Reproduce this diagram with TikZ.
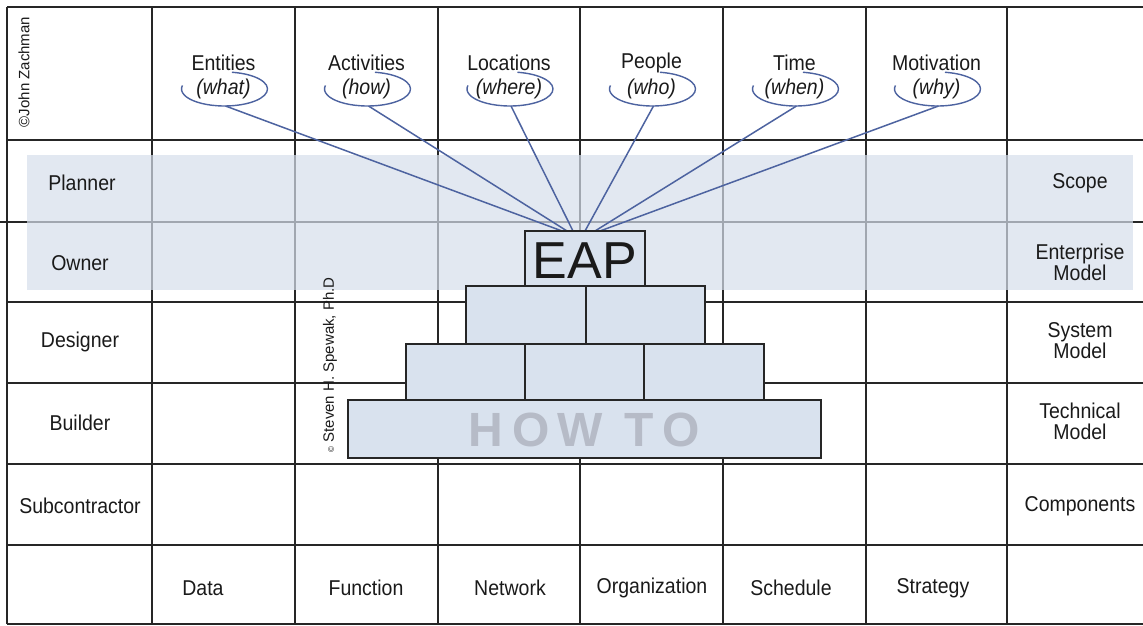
\documentclass[tikz,border=0pt]{standalone}
\usepackage{fontspec}
\setmainfont{Liberation Sans}
\definecolor{gridc}{HTML}{262626}
\definecolor{bandc}{HTML}{D6DFEC}
\definecolor{boxfill}{HTML}{D9E2EE}
\definecolor{loop}{HTML}{4D63A0}
\definecolor{howto}{HTML}{B6BBC7}
\definecolor{ink}{HTML}{1A1A1A}
\newcommand\tall[1]{\scalebox{1}[1.1]{#1}}
\newcommand\twolines[2]{\tall{\begin{tabular}{@{}c@{}}#1\\[-3pt]#2\end{tabular}}}
\begin{document}
\begin{tikzpicture}[x=1pt,y=1pt,
  gridline/.style={draw=gridc,line width=1.8pt},
  lbl/.style={font=\fontsize{19.5}{22}\selectfont,text=ink,align=center,inner sep=0pt},
  ital/.style={font=\fontsize{19.5}{22}\selectfont\itshape,text=ink,inner sep=0pt},
  lasso/.style={draw=loop,line width=1.4pt},
  spoke/.style={draw=loop,line width=1.5pt},
  brick/.style={draw=gridc,fill=boxfill,line width=1.4pt,inner sep=0pt},
  credit/.style={rotate=90,font=\fontsize{15}{15}\selectfont,text=ink,inner sep=0pt}]
\useasboundingbox (0,-626) rectangle (1143,0);
\fill[white] (0,-626) rectangle (1143,0);

% framework grid
\foreach \y in {7,140,302,383,464,545,624}
  \draw[gridline] (7,-\y) -- (1143,-\y);
\draw[gridline] (0,-222) -- (1143,-222);
\foreach \x in {7,152,295,438,580,723,866,1007}
  \draw[gridline] (\x,-7) -- (\x,-624);

% translucent band over the Planner and Owner rows
\fill[bandc,fill opacity=0.7] (27,-155) rectangle (1133,-290);

% column headings with their loops
\foreach \i/\x/\w/\q in {1/223.5/Entities/what,2/366.5/Activities/how,
    3/509/Locations/where,4/651.5/People/who,5/794.5/Time/when,6/936.5/Motivation/why}{
  \node[lbl] (h\i) at (\x,-63) {\tall{\w}};
  \node[ital] (q\i) at (\x,-89) {\tall{(\q)}};
  \draw[lasso] (\x+1,-89) ++(80:43 and 17)
    arc[start angle=80,end angle=-192,x radius=43,y radius=17];
  \coordinate (b\i) at (\x+2,-106);
}

% meeting points on top of the EAP block
\coordinate (t1) at (562,-231);
\coordinate (t2) at (567,-231);
\coordinate (t3) at (573,-231);
\coordinate (t4) at (585,-231);
\coordinate (t5) at (595,-231);
\coordinate (t6) at (600,-231);
\foreach \i in {1,...,6}
  \draw[spoke] (b\i) -- (t\i);

% pyramid
\node[brick,minimum width=120,minimum height=55] (eap) at (585,-258.5) {};
\node[inner sep=0pt,font=\fontsize{52}{52}\selectfont,text=ink] (eapt) at (585,-261) {EAP};
\node[brick,minimum width=120,minimum height=58] (p21) at (526,-315) {};
\node[brick,minimum width=119,minimum height=58] (p22) at (645.5,-315) {};
\node[brick,minimum width=119,minimum height=56] (p31) at (465.5,-372) {};
\node[brick,minimum width=119,minimum height=56] (p32) at (584.5,-372) {};
\node[brick,minimum width=120,minimum height=56] (p33) at (704,-372) {};
\node[brick,minimum width=473,minimum height=58] (p4) at (584.5,-429) {};
\node[inner sep=0pt,font=\fontsize{48}{48}\selectfont\bfseries,text=howto] (howto)
  at (584.5,-430) {H\kern9pt O\kern8pt W\kern8pt\ T\kern9pt O};

% row labels
\node[lbl] (r1) at (82,-183) {\tall{Planner}};
\node[lbl] (r2) at (80,-263) {\tall{Owner}};
\node[lbl] (r3) at (80,-342) {\tall{Designer}};
\node[lbl] (r4) at (80,-423) {\tall{Builder}};
\node[lbl] (r5) at (80,-506) {\tall{Subcontractor}};

% model labels
\node[lbl] (m1) at (1080,-183) {\tall{Scope}};
\node[lbl] (m2) at (1080,-265) {\twolines{Enterprise}{Model}};
\node[lbl] (m3) at (1080,-343) {\twolines{System}{Model}};
\node[lbl] (m4) at (1080,-424) {\twolines{Technical}{Model}};
\node[lbl] (m5) at (1080,-506) {\tall{Components}};

% column footers
\node[lbl] (f1) at (203,-588) {\tall{Data}};
\node[lbl] (f2) at (366,-588) {\tall{Function}};
\node[lbl] (f3) at (510,-588) {\tall{Network}};
\node[lbl] (f4) at (652,-588) {\tall{Organization}};
\node[lbl] (f5) at (791,-588) {\tall{Schedule}};
\node[lbl] (f6) at (933,-588) {\tall{Strategy}};

% copyright notes
\node[credit] (zach) at (24,-72) {©John Zachman};
\node[credit] (spew) at (330,-365) {{\fontsize{8}{8}\selectfont ©}\ Steven H. Spewak, Ph.D};
\end{tikzpicture}
\end{document}
